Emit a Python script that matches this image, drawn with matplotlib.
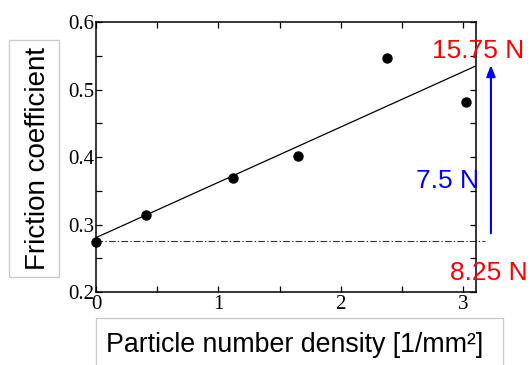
import numpy as np
import matplotlib
matplotlib.use('Agg')
import matplotlib.pyplot as plt
from matplotlib.patches import Rectangle

# measured points
density = [0.0, 0.406, 1.12, 1.65, 2.38, 3.02]
friction = [0.274, 0.314, 0.369, 0.401, 0.547, 0.481]
base_friction = 0.276
load_low, load_high, load_step = '8.25 N', '15.75 N', '7.5 N'
xticks = [0, 1, 2, 3]
yticks = [0.2, 0.3, 0.4, 0.5, 0.6]
xlim = (0, 3.105)
ylim = (0.2, 0.6)

serif = ['Liberation Serif', 'DejaVu Serif']
sans = ['Liberation Sans', 'DejaVu Sans']

W, H = 532, 365
fig = plt.figure(figsize=(W / 100, H / 100), dpi=100)
ax = fig.add_axes([96 / W, 1 - 292 / H, 380 / W, 270 / H])


def fx(px):
    return px / W


def fy(py):
    return 1 - py / H


# fit line + points
coef = np.polyfit(density, friction, 1)
xs = np.array(xlim)
ax.plot(xs, np.polyval(coef, xs), color='black', linewidth=0.9)
ax.plot(density, friction, 'o', color='black', markersize=6.5, clip_on=False, zorder=5)
ax.plot([0, 3.178], [base_friction, base_friction], color='#333333', linewidth=0.8,
        linestyle=(0, (6, 2, 1.2, 2)), clip_on=False)

# load arrow
ax.annotate('', xy=(3.227, 0.536), xytext=(3.227, 0.287),
            arrowprops=dict(arrowstyle='-|>,head_length=0.55,head_width=0.22',
                            color='#0000ff', lw=1.5, shrinkA=0, shrinkB=0,
                            mutation_scale=12),
            annotation_clip=False)

ax.set_xlim(*xlim)
ax.set_ylim(*ylim)
ax.set_xticks(xticks)
ax.set_yticks(yticks)
ax.set_xticklabels([str(t) for t in xticks])
ax.set_yticklabels(['%.1f' % t for t in yticks])
ax.set_xticks(np.arange(0.5, 3.1, 1.0), minor=True)
ax.set_yticks(np.arange(0.25, 0.6, 0.1), minor=True)
for which in ('major', 'minor'):
    ax.tick_params(which=which, direction='in', length=4, width=0.9,
                   top=True, right=True, colors='black')
ax.tick_params(axis='y', pad=1)
ax.tick_params(axis='x', pad=2)
for lab in ax.get_xticklabels() + ax.get_yticklabels():
    lab.set_family(serif)
    lab.set_fontsize(15)
for s in ax.spines.values():
    s.set_linewidth(1.1)

# axis titles in boxes
fig.patches.append(Rectangle((fx(9), fy(277)), fx(50), 237 / H, transform=fig.transFigure,
                             fill=False, edgecolor='#cccccc', linewidth=1))
fig.patches.append(Rectangle((fx(96), fy(380)), fx(407), 62 / H, transform=fig.transFigure,
                             fill=False, edgecolor='#cccccc', linewidth=1))
fig.text(fx(44.8), fy(158.5), 'Friction coefficient', rotation=90, rotation_mode='anchor',
         ha='center', va='baseline', family=sans, fontsize=20)
fig.text(fx(294.7), fy(352.3), 'Particle number density [1/mm\u00b2]',
         ha='center', va='baseline', family=sans, fontsize=19.3)

# load labels
fig.text(fx(478.5), fy(57.8), load_high, color='#ff0000', ha='center', va='baseline',
         family=sans, fontsize=19)
fig.text(fx(448), fy(188), load_step, color='#0000ff', ha='center', va='baseline',
         family=sans, fontsize=19)
fig.text(fx(489), fy(279.5), load_low, color='#ff0000', ha='center', va='baseline',
         family=sans, fontsize=19)

fig.savefig('out.png', dpi=100)
